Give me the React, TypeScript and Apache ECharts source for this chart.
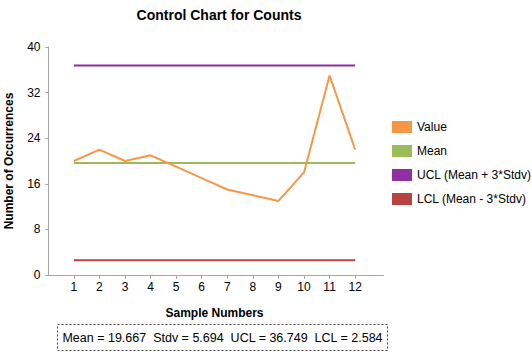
import React, { useEffect, useRef } from "react";
import * as echarts from "echarts";

const samples = [1, 2, 3, 4, 5, 6, 7, 8, 9, 10, 11, 12];
const values = [20, 22, 20, 21, 19, 17, 15, 14, 13, 18, 35, 22];
const meanValue = 19.667;
const stdvValue = 5.694;
const uclValue = 36.749;
const lclValue = 2.584;
const yTicks = [0, 8, 16, 24, 32, 40];

const FONT = "Liberation Sans, Arial, sans-serif";

export default function App() {
  const ref = useRef<HTMLDivElement>(null);
  useEffect(() => {
    if (!ref.current) return;
    const chart = echarts.init(ref.current, undefined, { renderer: "svg" });
    const first = samples[0];
    const last = samples[samples.length - 1];
    chart.setOption({
      animation: false,
      textStyle: { fontFamily: FONT },
      title: {
        text: "Control Chart for Counts",
        left: 214,
        textAlign: "center",
        top: 3,
        textStyle: { fontSize: 14, fontWeight: "bold", color: "#000", fontFamily: FONT },
      },
      legend: {
        orient: "vertical",
        left: 387,
        top: 116,
        itemWidth: 20,
        itemHeight: 12,
        itemGap: 12,
        icon: "rect",
        textStyle: { fontSize: 12, color: "#000", fontFamily: FONT },
        data: ["Value", "Mean", "UCL (Mean + 3*Stdv)", "LCL (Mean - 3*Stdv)"],
      },
      grid: { left: 45.5, right: 148.5, top: 47, bottom: 80, outerBoundsMode: "none", containLabel: false },
      xAxis: {
        type: "value",
        min: -0.108,
        max: 13.108,
        name: "Sample Numbers",
        nameLocation: "middle",
        nameGap: 32,
        nameTextStyle: { fontSize: 12, fontWeight: "bold", color: "#000", fontFamily: FONT },
        axisLine: { lineStyle: { color: "#a6a6a6" } },
        axisTick: { show: true, customValues: samples, length: 4, lineStyle: { color: "#a6a6a6" } },
        axisLabel: { customValues: samples, fontSize: 12, color: "#000", margin: 6, fontFamily: FONT },
        splitLine: { show: false },
      },
      yAxis: {
        type: "value",
        min: 0,
        max: 40,
        interval: 8,
        name: "Number of Occurrences",
        nameLocation: "middle",
        nameGap: 31,
        nameTextStyle: { fontSize: 12, fontWeight: "bold", color: "#000", fontFamily: FONT },
        axisLine: { show: true, lineStyle: { color: "#a6a6a6" } },
        axisTick: { show: true, length: 3, lineStyle: { color: "#a6a6a6" } },
        axisLabel: { fontSize: 12, color: "#000", margin: 5, fontFamily: FONT, customValues: yTicks },
        splitLine: { show: false },
      },
      series: [
        {
          name: "Value",
          type: "line",
          data: samples.map((s, i) => [s, values[i]]),
          showSymbol: false,
          symbol: "none",
          lineStyle: { color: "#f79646", width: 2 },
          itemStyle: { color: "#f79646" },
          z: 5,
        },
        {
          name: "Mean",
          type: "line",
          data: [[first, meanValue], [last, meanValue]],
          symbol: "none",
          lineStyle: { color: "#9bbb59", width: 2 },
          itemStyle: { color: "#9bbb59" },
        },
        {
          name: "UCL (Mean + 3*Stdv)",
          type: "line",
          data: [[first, uclValue], [last, uclValue]],
          symbol: "none",
          lineStyle: { color: "#8e2fa3", width: 2 },
          itemStyle: { color: "#8e2fa3" },
        },
        {
          name: "LCL (Mean - 3*Stdv)",
          type: "line",
          data: [[first, lclValue], [last, lclValue]],
          symbol: "none",
          lineStyle: { color: "#b54341", width: 2 },
          itemStyle: { color: "#b54341" },
        },
      ],
      graphic: [
        {
          type: "rect",
          shape: { x: 57.5, y: 324.5, width: 330, height: 26 },
          style: { fill: "#fff", stroke: "#444", lineWidth: 1, lineDash: [2, 2] },
        },
        {
          type: "text",
          x: 222.5,
          y: 338,
          style: {
            text: `Mean = ${meanValue.toFixed(3)}  Stdv = ${stdvValue.toFixed(3)}  UCL = ${uclValue.toFixed(3)}  LCL = ${lclValue.toFixed(3)}`,
            fontSize: 12.5,
            fontFamily: FONT,
            fill: "#000",
            align: "center",
            verticalAlign: "middle",
          },
        },
      ],
    });
    return () => chart.dispose();
  }, []);
  return <div ref={ref} style={{ width: 532, height: 355, position: "absolute", left: 0, top: 0 }} />;
}
